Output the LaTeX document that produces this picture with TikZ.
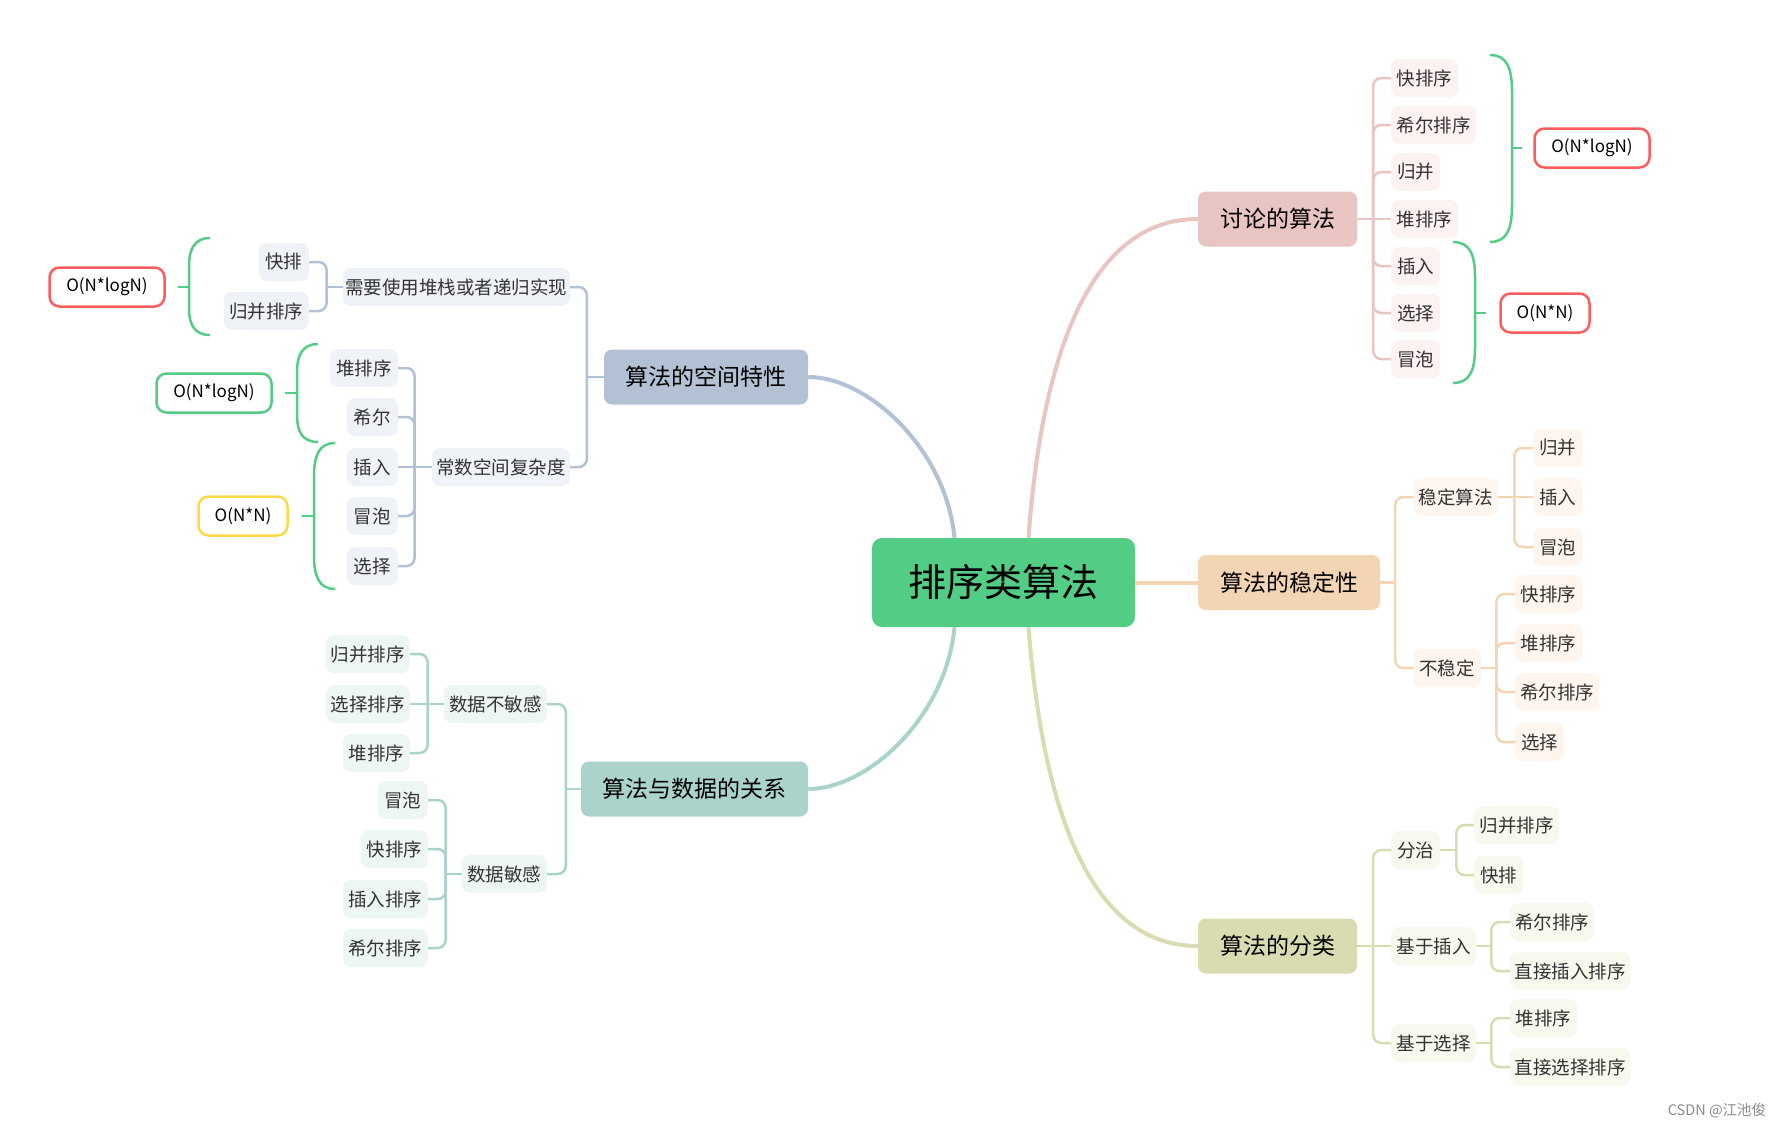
\documentclass[tikz,border=0pt]{standalone}
\usepackage{fontspec}
\setmainfont{Noto Sans CJK SC}
\usetikzlibrary{calc}
\definecolor{cCen}{HTML}{53CC85}
\definecolor{cT}{HTML}{E8C4C3}
\definecolor{cS}{HTML}{F3D4B3}
\definecolor{cF}{HTML}{D9DBB0}
\definecolor{cD}{HTML}{AAD4CB}
\definecolor{cK}{HTML}{B2C1D3}
\definecolor{lT}{HTML}{FCF2F1}
\definecolor{lS}{HTML}{FEF6EE}
\definecolor{lF}{HTML}{F7F8EE}
\definecolor{lD}{HTML}{EEF6F4}
\definecolor{lK}{HTML}{EFF2F7}
\definecolor{cRed}{HTML}{FF5C5C}
\definecolor{cYel}{HTML}{FFD84A}
\definecolor{leaftext}{HTML}{333333}
\begin{document}
\begin{tikzpicture}[x=1pt,y=-1pt,
  leaf/.style={rounded corners=8pt, inner sep=0pt, minimum height=38pt, font=\fontsize{18.5}{22}\selectfont, text=leaftext},
  leafT/.style={leaf, fill=lT}, leafS/.style={leaf, fill=lS}, leafF/.style={leaf, fill=lF},
  leafD/.style={leaf, fill=lD}, leafK/.style={leaf, fill=lK},
  mainbox/.style={rounded corners=8pt, inner sep=0pt, minimum height=55pt, font=\fontsize{23}{28}\selectfont, text=black},
  conn/.style={line width=2.5pt, rounded corners=8pt},
  curveline/.style={line width=4pt},
  sumbox/.style={draw, line width=2.5pt, rounded corners=10pt, fill=white, minimum height=39pt, inner sep=0pt, font=\fontsize{17}{20}\selectfont, text=black},
  bracket/.style={draw=cCen, line width=2.5pt}
]
\useasboundingbox (0,0) rectangle (1781,1127);
\fill[white] (0,0) rectangle (1781,1127);

% central
\node[rounded corners=10pt, fill=cCen, minimum width=263pt, minimum height=89pt, inner sep=0pt, font=\fontsize{38}{44}\selectfont] (C) at (1003.5,582.5) {排序类算法};

% main branches
\node[mainbox, fill=cT, minimum width=159pt] (T) at (1277.5,219) {讨论的算法};
\node[mainbox, fill=cS, minimum width=182pt] (S) at (1289,582.5) {算法的稳定性};
\node[mainbox, fill=cF, minimum width=159pt] (F) at (1277.5,946) {算法的分类};
\node[mainbox, fill=cK, minimum width=204pt] (K) at (706,377) {算法的空间特性};
\node[mainbox, fill=cD, minimum width=227pt] (D) at (694.5,789) {算法与数据的关系};

% main curves
\draw[curveline, cT] ([xshift=25pt]C.north) .. controls (1040,380) and (1080,219) .. (T.west);
\draw[curveline, cK] ([xshift=-49pt]C.north) .. controls (946,449) and (868,377) .. (K.east);
\draw[curveline, cD] ([xshift=-49pt]C.south) .. controls (946,717) and (868,789) .. (D.east);
\draw[curveline, cF] ([xshift=25pt]C.south) .. controls (1041,786) and (1081,946) .. (F.west);
\draw[curveline, cS] (C.east) -- (S.west);

% ---------- T branch
\node[leafT, minimum width=67pt, anchor=west] (t1) at (1391,78) {快排序};
\node[leafT, minimum width=85pt, anchor=west] (t2) at (1391,125) {希尔排序};
\node[leafT, minimum width=49pt, anchor=west] (t3) at (1391,172) {归并};
\node[leafT, minimum width=67pt, anchor=west] (t4) at (1391,219) {堆排序};
\node[leafT, minimum width=49pt, anchor=west] (t5) at (1391,266) {插入};
\node[leafT, minimum width=49pt, anchor=west] (t6) at (1391,313) {选择};
\node[leafT, minimum width=49pt, anchor=west] (t7) at (1391,359) {冒泡};
\coordinate (tT) at ([xshift=16pt]T.east);
\draw[conn, cT] (T.east) -- (tT);
\foreach \c in {t1,t2,t3,t5,t6,t7} \draw[conn, cT] (tT) |- (\c.west);
\draw[conn, cT] (tT) -- (t4.west);

\node[sumbox, draw=cRed, minimum width=115pt] (r1) at (1592,148) {O(N*logN)};
\node[sumbox, draw=cRed, minimum width=89pt] (r2) at (1545,313) {O(N*N)};
\draw[bracket] (1490,55) .. controls (1507,55) and (1512,68) .. (1512,92) -- (1512,205) .. controls (1512,229) and (1507,242) .. (1490,242);
\draw[bracket] (1512,148) -- (1522,148);
\draw[bracket] (1453,242) .. controls (1470,242) and (1475,255) .. (1475,277) -- (1475,348) .. controls (1475,370) and (1470,383) .. (1453,383);
\draw[bracket] (1475,313) -- (1486,313);

% ---------- S branch
\node[leafS, minimum width=85pt, anchor=west] (s1) at (1413,497) {稳定算法};
\node[leafS, minimum width=68pt, anchor=west] (s2) at (1413,668) {不稳定};
\node[leafS, minimum width=49pt, anchor=west] (s11) at (1533,448) {归并};
\node[leafS, minimum width=49pt, anchor=west] (s12) at (1533,497) {插入};
\node[leafS, minimum width=49pt, anchor=west] (s13) at (1533,547) {冒泡};
\node[leafS, minimum width=67pt, anchor=west] (s21) at (1515,594) {快排序};
\node[leafS, minimum width=67pt, anchor=west] (s22) at (1515,643) {堆排序};
\node[leafS, minimum width=84pt, anchor=west] (s23) at (1515,692) {希尔排序};
\node[leafS, minimum width=49pt, anchor=west] (s24) at (1515,742) {选择};
\coordinate (tS) at ([xshift=15pt]S.east);
\draw[conn, cS] (S.east) -- (tS);
\foreach \c in {s1,s2} \draw[conn, cS] (tS) |- (\c.west);
\coordinate (tS1) at ([xshift=16pt]s1.east);
\draw[conn, cS] (s1.east) -- (tS1);
\foreach \c in {s11,s13} \draw[conn, cS] (tS1) |- (\c.west);
\draw[conn, cS] (tS1) -- (s12.west);
\coordinate (tS2) at ([xshift=15pt]s2.east);
\draw[conn, cS] (s2.east) -- (tS2);
\foreach \c in {s21,s22,s23,s24} \draw[conn, cS] (tS2) |- (\c.west);

% ---------- F branch
\node[leafF, minimum width=49pt, anchor=west] (f1) at (1391,850) {分治};
\node[leafF, minimum width=85pt, anchor=west] (f2) at (1391,946) {基于插入};
\node[leafF, minimum width=85pt, anchor=west] (f3) at (1391,1043) {基于选择};
\node[leafF, minimum width=85pt, anchor=west] (f11) at (1474,825) {归并排序};
\node[leafF, minimum width=49pt, anchor=west] (f12) at (1474,875) {快排};
\node[leafF, minimum width=84pt, anchor=west] (f21) at (1510,922) {希尔排序};
\node[leafF, minimum width=120pt, anchor=west] (f22) at (1510,971) {直接插入排序};
\node[leafF, minimum width=67pt, anchor=west] (f31) at (1510,1018) {堆排序};
\node[leafF, minimum width=120pt, anchor=west] (f32) at (1510,1067) {直接选择排序};
\coordinate (tF) at ([xshift=16pt]F.east);
\draw[conn, cF] (F.east) -- (tF);
\foreach \c in {f1,f3} \draw[conn, cF] (tF) |- (\c.west);
\draw[conn, cF] (tF) -- (f2.west);
\coordinate (tF1) at ([xshift=16pt]f1.east);
\draw[conn, cF] (f1.east) -- (tF1);
\foreach \c in {f11,f12} \draw[conn, cF] (tF1) |- (\c.west);
\coordinate (tF2) at ([xshift=15pt]f2.east);
\draw[conn, cF] (f2.east) -- (tF2);
\foreach \c in {f21,f22} \draw[conn, cF] (tF2) |- (\c.west);
\coordinate (tF3) at ([xshift=15pt]f3.east);
\draw[conn, cF] (f3.east) -- (tF3);
\foreach \c in {f31,f32} \draw[conn, cF] (tF3) |- (\c.west);

% ---------- K branch
\node[leafK, minimum width=227pt, anchor=east] (k1) at (570,287) {需要使用堆栈或者递归实现};
\node[leafK, minimum width=138pt, anchor=east] (k2) at (570,467) {常数空间复杂度};
\node[leafK, minimum width=50pt, anchor=east] (k11) at (309,262) {快排};
\node[leafK, minimum width=85pt, anchor=east] (k12) at (309,311) {归并排序};
\node[leafK, minimum width=68pt, anchor=east] (k21) at (398,368) {堆排序};
\node[leafK, minimum width=51pt, anchor=east] (k22) at (398,417) {希尔};
\node[leafK, minimum width=51pt, anchor=east] (k23) at (398,467) {插入};
\node[leafK, minimum width=51pt, anchor=east] (k24) at (398,516) {冒泡};
\node[leafK, minimum width=51pt, anchor=east] (k25) at (398,566) {选择};
\coordinate (tK) at ([xshift=-17pt]K.west);
\draw[conn, cK] (K.west) -- (tK);
\foreach \c in {k1,k2} \draw[conn, cK] (tK) |- (\c.east);
\coordinate (tK1) at ([xshift=-16pt]k1.west);
\draw[conn, cK] (k1.west) -- (tK1);
\foreach \c in {k11,k12} \draw[conn, cK] (tK1) |- (\c.east);
\coordinate (tK2) at ([xshift=-17pt]k2.west);
\draw[conn, cK] (k2.west) -- (tK2);
\foreach \c in {k21,k22,k24,k25} \draw[conn, cK] (tK2) |- (\c.east);
\draw[conn, cK] (tK2) -- (k23.east);

\node[sumbox, draw=cRed, minimum width=115pt] (r3) at (107,287) {O(N*logN)};
\node[sumbox, draw=cCen, minimum width=115pt] (g4) at (214,393) {O(N*logN)};
\node[sumbox, draw=cYel, minimum width=89pt] (y5) at (243,516) {O(N*N)};
\draw[bracket] (210,238) .. controls (194,238) and (189,250) .. (189,266) -- (189,308) .. controls (189,324) and (194,335) .. (210,335);
\draw[bracket] (189,287) -- (178,287);
\draw[bracket] (318,344) .. controls (302,344) and (297,356) .. (297,372) -- (297,415) .. controls (297,431) and (302,442) .. (318,442);
\draw[bracket] (297,393) -- (285,393);
\draw[bracket] (335,443) .. controls (319,443) and (314,456) .. (314,476) -- (314,556) .. controls (314,576) and (319,589) .. (335,589);
\draw[bracket] (314,516) -- (302,516);

% ---------- D branch
\node[leafD, minimum width=103pt, anchor=east] (d1) at (547,704) {数据不敏感};
\node[leafD, minimum width=85pt, anchor=east] (d2) at (547,874) {数据敏感};
\node[leafD, minimum width=84pt, anchor=east] (d11) at (410,654) {归并排序};
\node[leafD, minimum width=84pt, anchor=east] (d12) at (410,704) {选择排序};
\node[leafD, minimum width=67pt, anchor=east] (d13) at (410,753) {堆排序};
\node[leafD, minimum width=50pt, anchor=east] (d21) at (428,800) {冒泡};
\node[leafD, minimum width=67pt, anchor=east] (d22) at (428,849) {快排序};
\node[leafD, minimum width=85pt, anchor=east] (d23) at (428,899) {插入排序};
\node[leafD, minimum width=85pt, anchor=east] (d24) at (428,948) {希尔排序};
\coordinate (tD) at ([xshift=-15pt]D.west);
\draw[conn, cD] (D.west) -- (tD);
\foreach \c in {d1,d2} \draw[conn, cD] (tD) |- (\c.east);
\coordinate (tD1) at ([xshift=-16pt]d1.west);
\draw[conn, cD] (d1.west) -- (tD1);
\foreach \c in {d11,d13} \draw[conn, cD] (tD1) |- (\c.east);
\draw[conn, cD] (tD1) -- (d12.east);
\coordinate (tD2) at ([xshift=-16pt]d2.west);
\draw[conn, cD] (d2.west) -- (tD2);
\foreach \c in {d21,d22,d23,d24} \draw[conn, cD] (tD2) |- (\c.east);

% watermark
\node[font=\fontsize{14.5}{17}\selectfont, text=black!45] (wm) at (1717,1111) {CSDN @江池俊};
\end{tikzpicture}
\end{document}
